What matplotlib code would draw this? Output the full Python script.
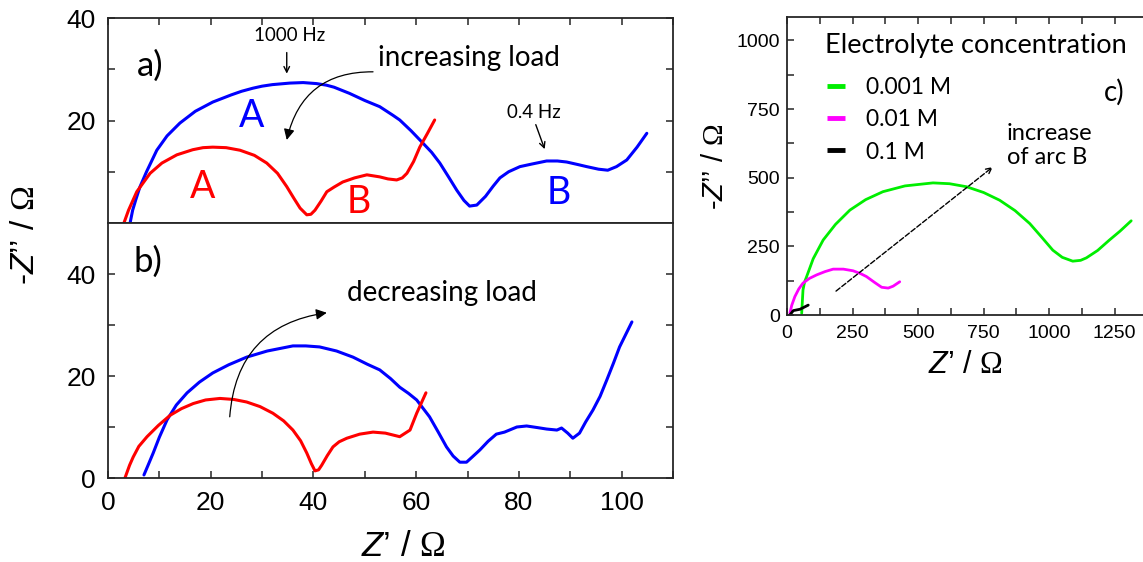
import numpy as np
import matplotlib.pyplot as plt

plt.rcParams['font.family'] = 'Liberation Sans'
plt.rcParams['mathtext.fontset'] = 'custom'
plt.rcParams['mathtext.rm'] = 'Liberation Serif'
plt.rcParams['mathtext.it'] = 'Liberation Sans:italic'
plt.rcParams['lines.solid_joinstyle'] = 'round'
plt.rcParams['lines.solid_capstyle'] = 'round'

# panel a) increasing load
a_blue_x = [4.3, 4.8, 5.4, 6.2, 7.5, 9.5, 11.5, 14, 17, 20.4, 24, 26, 28.2, 30, 32, 35.4, 38, 40.6, 42.5, 44, 47, 50,
            52.9, 55.5, 56.8, 59, 61.3, 63, 64.6, 66.3, 67.9, 69.3, 70.4, 71.8, 73.5, 75, 76.3, 78, 80.2,
            82.5, 85.4, 87.5, 89.3, 91.5, 93.2, 95.5, 97.3, 99, 101, 103, 104.9]
a_blue_y = [0, 2.5, 4.5, 7, 10, 14.2, 17, 19.5, 21.8, 23.6, 25, 25.7, 26.3, 26.7, 27, 27.3, 27.4, 27.2, 26.9, 26.5, 25.3, 23.9,
            22.7, 21, 20.1, 18, 15.6, 13.8, 11.7, 9, 6.4, 4.4, 3.3, 3.5, 5.2, 7.2, 8.8, 10, 11,
            11.5, 12.1, 12.1, 11.9, 11.4, 11, 10.5, 10.3, 11, 12.3, 14.8, 17.5]
a_red_x = [3.1, 4, 5.6, 8.2, 10.5, 13.4, 16.5, 18.5, 20.4, 23, 25.7, 28.5, 30.9, 33, 34.8, 36.2, 37.4, 38.7, 39.5,
           40.3, 41.5, 42.6, 44, 45.7, 48, 50.4, 52.9, 54.5, 56.2, 57.3, 58.2, 59.5, 60.7, 62.2, 63.6]
a_red_y = [0, 2.5, 6.1, 9.7, 11.7, 13.3, 14.3, 14.7, 14.8, 14.7, 14.2, 13.2, 11.7, 9.7, 7.1, 4.8, 2.9, 1.6, 1.7,
           2.5, 4.3, 6.1, 7, 8, 8.8, 9.4, 9, 8.6, 8.4, 8.8, 9.7, 12, 14.8, 17.5, 20.1]

# panel b) decreasing load
b_red_x = [3.3, 4.2, 4.9, 6, 7.6, 9.8, 12.1, 14.3, 16.6, 19, 21.8, 24.5, 27, 29.6, 32.1, 34.2, 36, 37.5,
           38.7, 39.6, 40.3, 41, 41.6, 42.7, 43.8, 45, 46.5, 49, 51.6, 54, 56.8, 58.8, 60.1, 61.9]
b_red_y = [0, 2.5, 4.1, 6.2, 8.1, 10.3, 12.3, 13.6, 14.6, 15.3, 15.6, 15.4, 14.9, 14, 12.7, 11.2, 9.4, 7.3,
           4.9, 2.8, 1.4, 1.6, 2.5, 4.4, 6.1, 7.1, 7.8, 8.6, 9, 8.8, 8.1, 9.4, 12.7, 16.7]
b_blue_x = [7, 7.8, 8.8, 10, 11.5, 13.3, 15.4, 17.8, 20.4, 23.5, 27, 31, 36, 38.5, 41.2, 44.5, 47.7, 50.5,
            52.9, 55, 56.8, 58.5, 60.1, 62.6, 64.3, 65.9, 67.2, 68.5, 69.8, 71, 72.4, 74, 75.6, 77.2,
            79.6, 81.5, 83.5, 85.4, 87.4, 88.3, 89.5, 90.5, 91.8, 93, 94.4, 95.8, 97.1, 98.4, 99.6, 102]
b_blue_y = [0.6, 2.5, 4.9, 8, 11.4, 14.3, 16.7, 18.8, 20.6, 22.2, 23.7, 24.9, 25.9, 25.9, 25.7, 24.9, 23.7, 22.3,
            21.2, 19.5, 17.8, 16.6, 15.3, 12, 9, 6.1, 4.3, 3.1, 3.1, 4.2, 5.5, 7.2, 8.6, 9,
            10, 10.2, 9.9, 9.6, 9.4, 9.8, 8.8, 7.8, 8.8, 11, 13.3, 16, 19.2, 22.5, 25.7, 30.6]

# panel c) electrolyte concentration
conc_labels = ['0.001 M', '0.01 M', '0.1 M']
c_green_x = [56, 58, 61, 67, 75, 100, 138, 185, 240, 300, 366, 450, 557, 620, 685, 750, 811, 870, 926,
             970, 1014, 1050, 1090, 1120, 1142, 1185, 1230, 1270, 1313]
c_green_y = [6, 40, 91, 120, 140, 205, 273, 330, 382, 420, 449, 470, 481, 478, 467, 446, 418, 380, 333,
             285, 236, 210, 196, 199, 208, 235, 273, 305, 343]
c_mag_x = [11, 18, 30, 45, 61, 85, 113, 145, 176, 215, 252, 280, 303, 335, 361, 386, 405, 430]
c_mag_y = [6, 35, 67, 95, 116, 133, 146, 158, 167, 167, 161, 151, 140, 118, 101, 98, 105, 121]
c_black_x = [11, 24, 50, 81]
c_black_y = [0, 16, 21, 36]

W, H = 1143, 562
fig = plt.figure(figsize=(W / 100, H / 100), dpi=100)


def box(l, t, r, b):
    return [l / W, 1 - b / H, (r - l) / W, (b - t) / H]


ax_a = fig.add_axes(box(108, 18, 673, 223))
ax_b = fig.add_axes(box(108, 223, 673, 478))
ax_c = fig.add_axes(box(787, 17, 1154, 315))

spine_col = '#262626'
for ax in (ax_a, ax_b, ax_c):
    for s in ax.spines.values():
        s.set_linewidth(1.3)
        s.set_color(spine_col)
    ax.tick_params(which='both', direction='in', color=spine_col, width=1.1, length=5)

lw = 2.2
ax_a.plot(a_blue_x, a_blue_y, color='#0000ff', lw=lw)
ax_a.plot(a_red_x, a_red_y, color='#ff0000', lw=lw)
ax_b.plot(b_blue_x, b_blue_y, color='#0000ff', lw=lw)
ax_b.plot(b_red_x, b_red_y, color='#ff0000', lw=lw)

for ax in (ax_a, ax_b):
    ax.set_xlim(0, 110)
    ax.set_xticks(np.arange(0, 101, 20))
    ax.set_xticks(np.arange(10, 111, 20), minor=True)
    ax.tick_params(labelsize=19, pad=9)

ax_a.set_ylim(0, 40)
ax_a.set_yticks([20, 40])
ax_a.set_yticks([10, 30], minor=True)
ax_a.tick_params(which='both', top=True, bottom=False, right=True, labelbottom=False)

ax_b.set_ylim(0, 50)
ax_b.set_yticks([0, 20, 40])
ax_b.set_yticks([10, 30], minor=True)
ax_b.tick_params(which='both', top=False, bottom=True, right=True)

ann = dict(family='Lato', color='black')
ax_a.text(8.2, 30.6, 'a)', fontsize=25, ha='center', va='center', **ann)
ax_a.text(28, 20.9, 'A', fontsize=27, color='#0000ff', ha='center', va='center', family='Lato')
ax_a.text(18.5, 7, 'A', fontsize=27, color='#ff0000', ha='center', va='center', family='Lato')
ax_a.text(48.8, 4.1, 'B', fontsize=27, color='#ff0000', ha='center', va='center', family='Lato')
ax_a.text(87.7, 5.9, 'B', fontsize=27, color='#0000ff', ha='center', va='center', family='Lato')
ax_a.text(35.4, 36.5, '1000 Hz', fontsize=13.5, ha='center', va='center', **ann)
ax_a.annotate('', xy=(34.8, 28.6), xytext=(34.8, 33.8),
              arrowprops=dict(arrowstyle='->', lw=1, color='black'))
ax_a.text(82.9, 21.5, '0.4 Hz', fontsize=13.5, ha='center', va='center', **ann)
ax_a.annotate('', xy=(85.2, 13.9), xytext=(83.1, 19.7),
              arrowprops=dict(arrowstyle='->', lw=1, color='black'))
ax_a.text(52.6, 32.2, 'increasing load', fontsize=20, ha='left', va='center', **ann)
ax_a.annotate('', xy=(34.8, 16.2), xytext=(51.6, 29.5),
              arrowprops=dict(arrowstyle='-|>', lw=0.9, color='black', mutation_scale=16,
                              connectionstyle='arc3,rad=0.4', shrinkA=0, shrinkB=0))

ax_b.text(7.8, 42.4, 'b)', fontsize=25, ha='center', va='center', **ann)
ax_b.text(46.5, 36.3, 'decreasing load', fontsize=20, ha='left', va='center', **ann)
ax_b.annotate('', xy=(42.6, 32.4), xytext=(23.7, 12),
              arrowprops=dict(arrowstyle='-|>', lw=0.9, color='black', mutation_scale=16,
                              connectionstyle='arc3,rad=-0.4', shrinkA=0, shrinkB=0))

# panel c
l1, = ax_c.plot(c_green_x, c_green_y, color='#00ee00', lw=2)
l2, = ax_c.plot(c_mag_x, c_mag_y, color='#ff00ff', lw=2)
l3, = ax_c.plot(c_black_x, c_black_y, color='black', lw=2)
ax_c.set_xlim(0, 1400)
ax_c.set_ylim(0, 1085)
ax_c.set_xticks(np.arange(0, 1251, 250))
ax_c.set_xticks(np.arange(125, 1400, 250), minor=True)
ax_c.set_yticks(np.arange(0, 1001, 250))
ax_c.set_yticks(np.arange(125, 1085, 250), minor=True)
ax_c.tick_params(which='both', top=True, right=False, labelsize=14, pad=5)
ax_c.tick_params(axis='x', pad=7)

ax_c.text(145, 982, 'Electrolyte concentration', fontsize=19.5, ha='left', va='center', **ann)
leg = ax_c.legend([l1, l2, l3], conc_labels, loc='upper left', bbox_to_anchor=(0.109, 0.80),
                  frameon=False, handlelength=0.8, handletextpad=0.9, labelspacing=0.5,
                  borderpad=0, borderaxespad=0, prop=dict(family='Lato', size=16.5))
for h in leg.legend_handles:
    h.set_linewidth(3.5)
    h.set_solid_capstyle('butt')

ax_c.text(1250, 811, 'c)', fontsize=20, ha='center', va='center', **ann)
ax_c.text(838, 699, 'increase\nof arc B', fontsize=17, ha='left', va='top', linespacing=1.2, **ann)
ax_c.annotate('', xy=(785, 539), xytext=(187, 87),
              arrowprops=dict(arrowstyle='->', lw=1, color='black', linestyle='--',
                              shrinkA=0, shrinkB=0))

fig.text(25 / W, 1 - 235 / H, '-$Z$’’ / $\\Omega$', rotation=90, fontsize=24,
         ha='center', va='center')
fig.text(403 / W, 1 - 546 / H, '$Z$’ / $\\Omega$', fontsize=25, ha='center', va='center')
fig.text(715 / W, 1 - 167 / H, '-$Z$’’ / $\\Omega$', rotation=90, fontsize=21,
         ha='center', va='center')
fig.text(965 / W, 1 - 365 / H, '$Z$’ / $\\Omega$', fontsize=22, ha='center', va='center')

fig.savefig('out.png', dpi=100)
